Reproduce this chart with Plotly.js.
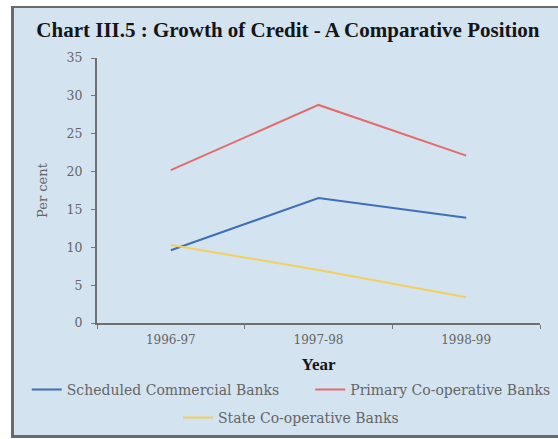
<!DOCTYPE html>
<html>
<head>
<meta charset="utf-8">
<script src="https://cdn.plot.ly/plotly-3.0.1.min.js"></script>
<style>
  html, body { margin: 0; padding: 0; background: #ffffff; overflow: hidden; }
  #frame { position: absolute; left: 11px; top: 6px; width: 640px; height: 427px;
           background: #d3e3f0; border-left: 3px solid #6a6a6a; border-top: 2px solid #6a6a6a; border-bottom: 3px solid #6a6a6a; }
  #chart { position: absolute; left: 0; top: 0; width: 558px; height: 439px; }
</style>
</head>
<body>
<div id="frame"></div>
<div id="chart"></div>
<script>
const years = ["1996-97", "1997-98", "1998-99"];
const scheduledCommercial = [9.6, 16.5, 13.9];
const primaryCooperative = [20.2, 28.8, 22.1];
const stateCooperative = [10.3, 7.0, 3.4];
const yTicks = [0, 5, 10, 15, 20, 25, 30, 35];

const traces = [
  { x: years, y: scheduledCommercial, name: "Scheduled Commercial Banks", type: "scatter", mode: "lines",
    line: { color: "#3f6fb5", width: 2 }, legend: "legend" },
  { x: years, y: primaryCooperative, name: "Primary Co-operative Banks", type: "scatter", mode: "lines",
    line: { color: "#e36b6b", width: 2 }, legend: "legend2" },
  { x: years, y: stateCooperative, name: "State Co-operative Banks", type: "scatter", mode: "lines",
    line: { color: "#f2d060", width: 2 }, legend: "legend3" }
];

const legendFont = { family: "DejaVu Serif, serif", size: 14, color: "#666" };
function legendAt(x, y) {
  return { orientation: "h", xref: "container", yref: "container",
           x: x, xanchor: "left", y: y, yanchor: "middle",
           font: legendFont, bgcolor: "rgba(0,0,0,0)", itemwidth: 30 };
}

const layout = {
  width: 558, height: 439,
  margin: { l: 97, r: 18, t: 58, b: 116, autoexpand: false },
  paper_bgcolor: "rgba(0,0,0,0)",
  plot_bgcolor: "rgba(0,0,0,0)",
  font: { family: "DejaVu Serif, serif", color: "#666" },
  title: { text: "Chart III.5 : Growth of Credit - A Comparative Position",
           font: { family: "Liberation Serif, serif", size: 21, color: "#151515", weight: "bold" },
           x: 0.516, xanchor: "center", y: 0.932, yanchor: "middle" },
  xaxis: {
    type: "category",
    tickson: "boundaries",
    ticks: "outside", ticklen: 4, tickcolor: "#777", tickwidth: 1,
    showline: true, linecolor: "#6f6f6f", linewidth: 2,
    showgrid: false, zeroline: false,
    ticklabelstandoff: 5,
    tickfont: { family: "DejaVu Serif, serif", size: 12, color: "#666" },
    title: { text: "<b>Year</b>", font: { family: "Liberation Serif, serif", size: 17, color: "#151515" }, standoff: 20 },
    range: [-0.5, 2.5]
  },
  yaxis: {
    range: [0, 35], tickvals: yTicks,
    ticks: "outside", ticklen: 4, tickcolor: "#777", tickwidth: 1,
    showline: true, linecolor: "#6f6f6f", linewidth: 2,
    showgrid: false, zeroline: false,
    ticklabelstandoff: 6,
    tickfont: { family: "DejaVu Serif, serif", size: 12.5, color: "#666" },
    title: { text: "Per cent", font: { family: "DejaVu Serif, serif", size: 13, color: "#666" }, standoff: 16 }
  },
  showlegend: true,
  legend: legendAt(0.048, 0.112),
  legend2: legendAt(0.556, 0.112),
  legend3: legendAt(0.319, 0.048)
};

Plotly.newPlot("chart", traces, layout, { displayModeBar: false, staticPlot: true });
</script>
</body>
</html>
